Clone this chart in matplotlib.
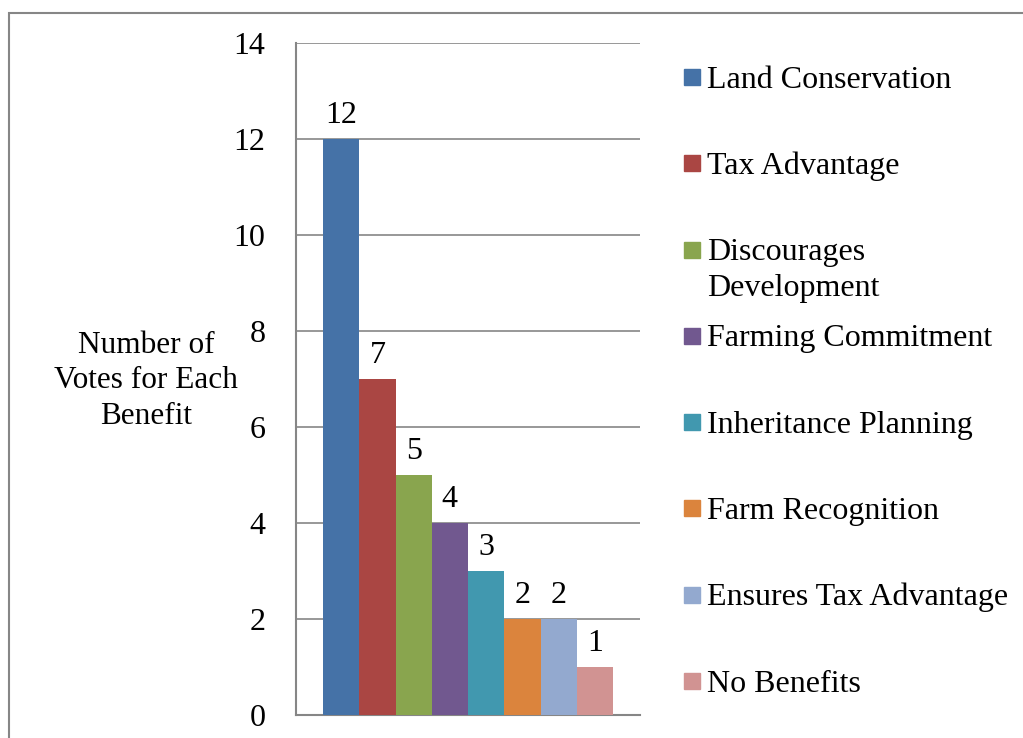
import numpy as np
import matplotlib
matplotlib.use('Agg')
import matplotlib.pyplot as plt
from matplotlib.patches import Rectangle

plt.rcParams['font.family'] = ['Liberation Serif', 'DejaVu Serif']

# data
benefits = ['Land Conservation', 'Tax Advantage', 'Discourages\nDevelopment',
            'Farming Commitment', 'Inheritance Planning', 'Farm Recognition',
            'Ensures Tax Advantage', 'No Benefits']
votes = [12, 7, 5, 4, 3, 2, 2, 1]
colors = ['#4572A7', '#AA4643', '#89A54E', '#71588F',
          '#4198AF', '#DB843D', '#93A9CF', '#D19392']
yticks = [0, 2, 4, 6, 8, 10, 12, 14]

W, H = 1023, 738
fig = plt.figure(figsize=(W / 100, H / 100), dpi=100)
ax = fig.add_axes([296 / W, 23 / H, 344 / W, 672 / H])

fs = 23
grid_c = '#868686'

n = len(votes)
group_w = 290 / 344
bw = group_w / n
xs = -group_w / 2 + bw / 2 + np.arange(n) * bw
bars = ax.bar(xs, votes, width=bw, color=colors, edgecolor='none', zorder=3)
for x, v in zip(xs, votes):
    ax.annotate(str(v), (x, v), xytext=(0, 17), textcoords='offset points',
                ha='center', va='center', fontsize=fs)

ax.set_xlim(-0.5, 0.5)
ax.set_ylim(0, 14)
ax.set_yticks(yticks)
ax.set_yticklabels([str(t) for t in yticks], fontsize=fs)
ax.tick_params(axis='y', length=0, pad=22)
ax.set_xticks([])
ax.yaxis.grid(True, color=grid_c, linewidth=1.2, zorder=0)
for s in ['top', 'right']:
    ax.spines[s].set_visible(False)
for s in ['left', 'bottom']:
    ax.spines[s].set_color(grid_c)
    ax.spines[s].set_linewidth(1.5)

fig.text(146 / W, 1 - 381 / H, 'Number of\nVotes for Each\nBenefit', ha='center',
         va='center', fontsize=22.5, linespacing=1.3)

# legend drawn by hand so the entries sit evenly spaced like the original
ys = np.linspace(77, 681, n)
for yc, lab, c in zip(ys, benefits, colors):
    fig.patches.append(Rectangle((684 / W, 1 - (yc + 8) / H), 16 / W, 16 / H,
                                 transform=fig.transFigure, color=c))
    for k, line in enumerate(lab.split('\n')):
        fig.text(707 / W, 1 - (yc + 3 + 36 * k) / H, line, ha='left', va='center',
                 fontsize=fs)

# outer chart border
fig.patches.append(Rectangle((9 / W, -0.1), 1.2, 1 - 13 / H + 0.1,
                             transform=fig.transFigure, fill=False,
                             edgecolor=grid_c, linewidth=1.5))

fig.savefig('out.png', dpi=100)
